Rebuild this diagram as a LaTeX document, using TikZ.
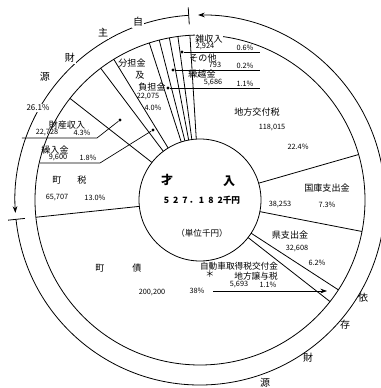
\documentclass[tikz,border=0pt]{standalone}
\usepackage{fontspec}
\setmainfont{Noto Sans CJK JP}
\usetikzlibrary{arrows.meta}

\tikzset{
  kamoku/.style={font=\fontsize{6.8}{7}\selectfont, inner sep=0pt},
  kingaku/.style={font=\fontsize{5.5}{6}\selectfont, inner sep=0pt},
  genmoji/.style={font=\fontsize{7.5}{8}\selectfont, inner sep=1pt, fill=white},
  tenpt/.style={circle, fill, inner sep=0pt, minimum size=2.4pt},
  hikisen/.style={line width=0.5pt},
  yajirushi/.style={-{Stealth[length=5pt,width=3.5pt]}},
}

\begin{document}
\begin{tikzpicture}[x=0.75pt, y=0.75pt, line width=0.6pt]
  \useasboundingbox (-200,-188) rectangle (180,200);

  % pie
  \draw (0,0) circle (61);
  \draw (0,0) circle (165);
  \foreach \a in {93.5,97.7,100.7,104.3,107.9,121.5,127,142,186,16,-11,-33,-38}
    \draw (\a:61) -- (\a:165);

  % outer ring
  \draw[yajirushi] (93.5:185) arc[start angle=93.5, end angle=184, radius=185];
  \draw[yajirushi] (186:185) arc[start angle=186, end angle=450.6, radius=185];
  \draw (93.5:176) -- (93.5:193);
  \draw (186:176) -- (186:193);
  \node[genmoji] (ji) at (-62,178) {自};
  \node[genmoji] (shu) at (-97,167) {主};
  \node[genmoji] (zai1) at (-130,142) {財};
  \node[genmoji] (gen1) at (-155,123) {源};
  \node[genmoji, font=\fontsize{6}{7}\selectfont] (jishu-p) at (-162,92) {26.1\%};
  \node[genmoji, fill=none] (i) at (163,-98) {依};
  \node[genmoji, fill=none] (son) at (145,-125) {存};
  \node[genmoji, fill=none] (zai2) at (108,-158) {財};
  \node[genmoji, fill=none] (gen2) at (65,-183) {源};

  % centre
  \node[font=\fontsize{9}{9}\selectfont\bfseries] (sai) at (-33,20) {才};
  \node[font=\fontsize{9}{9}\selectfont\bfseries] (nyu) at (29,19) {入};
  \node[font=\fontsize{6.5}{7}\selectfont\bfseries] (sogaku) at (2,0)
    {5\hspace{3pt}2\hspace{3pt}7\hspace{1pt}．\hspace{1pt}1\hspace{3pt}8\hspace{3pt}2千円};
  \node[font=\fontsize{6.4}{7}\selectfont] (tani) at (2,-33) {（単位千円）};

  % own revenue
  \node[kamoku] (chozei1) at (-143,20) {町};
  \node[kamoku] (chozei2) at (-118,20) {税};
  \node[kingaku] (chozei-k) at (-143,2) {65,707};
  \node[kingaku] (chozei-p) at (-105,2) {13.0\%};

  \node[kamoku] (kuri) at (-145,50) {繰入金};
  \node[kingaku] (kuri-k) at (-142,42) {9,600};
  \node[kingaku] (kuri-p) at (-112,42) {1.8\%};
  \node[tenpt] (kuri-pt) at (-47,70) {};
  \coordinate (kuri-a) at (-160,37);
  \coordinate (kuri-b) at (-100,37);
  \draw[hikisen] (kuri-a) -- (kuri-b) -- (kuri-pt);

  \node[kamoku] (zaisan) at (-133,75) {財産収入};
  \node[kingaku] (zaisan-k) at (-153,67) {22,728};
  \node[kingaku] (zaisan-p) at (-118,67) {4.3\%};
  \node[tenpt] (zaisan-pt) at (-80,80) {};
  \coordinate (zaisan-a) at (-178,62);
  \coordinate (zaisan-b) at (-103,62);
  \draw[hikisen] (zaisan-a) -- (zaisan-b) -- (zaisan-pt);

  \node[kamoku] (buntan1) at (-68,137) {分担金};
  \node[kamoku] (buntan2) at (-60,125) {及};
  \node[kamoku] (buntan3) at (-48,113) {負担金};
  \node[kingaku] (buntan-k) at (-52,103) {22,075};
  \node[kingaku] (buntan-p) at (-47,92) {4.0\%};

  \node[kamoku, fill=white, inner sep=0.5pt] (zatsu) at (9,161) {雑収入};
  \node[kingaku] (zatsu-k) at (5,153) {2,924};
  \node[kingaku] (zatsu-p) at (45,152) {0.6\%};
  \node[tenpt] (zatsu-pt) at (-18,148) {};
  \coordinate (zatsu-e) at (60,148);
  \draw[hikisen] (zatsu-pt) -- (zatsu-e);

  \node[kamoku] (sonota) at (3,142) {その他};
  \node[kingaku] (sonota-k) at (15,135) {793};
  \node[kingaku] (sonota-p) at (45,134) {0.2\%};
  \node[tenpt] (sonota-pt) at (-27,130) {};
  \coordinate (sonota-e) at (60,130);
  \draw[hikisen] (sonota-pt) -- (sonota-e);

  \node[kamoku] (kurikoshi) at (2,126) {繰越金};
  \node[kingaku] (kurikoshi-k) at (13,117) {5,686};
  \node[kingaku] (kurikoshi-p) at (45,116) {1.1\%};
  \node[tenpt] (kurikoshi-pt) at (-32,112) {};
  \coordinate (kurikoshi-e) at (60,112);
  \draw[hikisen] (kurikoshi-pt) -- (kurikoshi-e);

  % dependent revenue
  \node[kamoku] (kofu) at (57,88) {地方交付税};
  \node[kingaku] (kofu-k) at (72,72) {118,015};
  \node[kingaku] (kofu-p) at (98,53) {22.4\%};

  \node[kamoku] (kokko) at (127,12) {国庫支出金};
  \node[kingaku] (kokko-k) at (80,-5) {38,253};
  \node[kingaku] (kokko-p) at (127,-5) {7.3\%};

  \node[kamoku] (ken) at (90,-35) {県支出金};
  \node[kingaku] (ken-k) at (97,-49) {32,608};
  \node[kingaku] (ken-p) at (117,-63) {6.2\%};

  \node[kamoku, font=\fontsize{6.5}{7}\selectfont] (jido1) at (39,-66) {自動車取得税交付金};
  \node[kamoku] (jido-m) at (10,-74) {＊};
  \node[kamoku, font=\fontsize{6.5}{7}\selectfont] (jido2) at (56,-76) {地方譲与税};
  \node[kingaku] (jido-k) at (39,-85) {5,693};
  \node[kingaku] (jido-p) at (68,-85) {1.1\%};
  \coordinate (jido-a) at (13,-91);
  \coordinate (jido-pt) at (127,-91);
  \draw[hikisen, yajirushi] (jido-a) -- (jido-pt);

  \node[kamoku] (chosai1) at (-100,-68) {町};
  \node[kamoku] (chosai2) at (-63,-68) {債};
  \node[kingaku] (chosai-k) at (-48,-93) {200,200};
  \node[kingaku] (chosai-p) at (-3,-91) {38\%};
\end{tikzpicture}
\end{document}
